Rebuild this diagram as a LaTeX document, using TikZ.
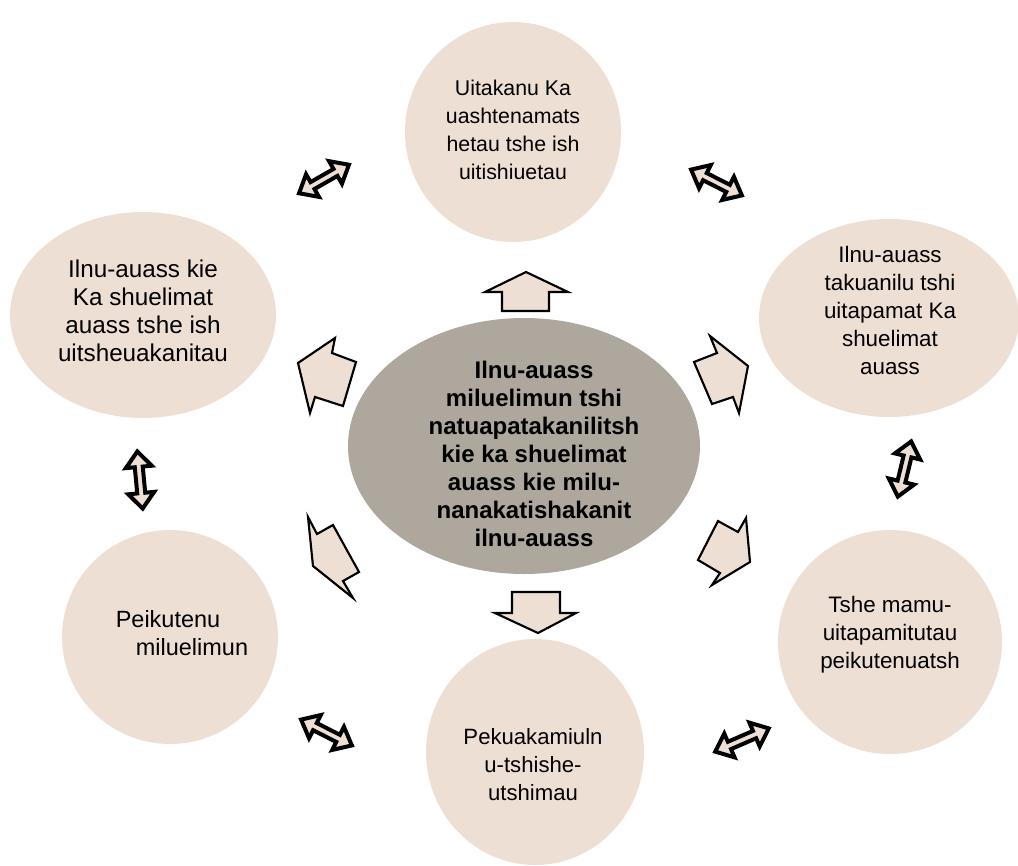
\documentclass[tikz,border=0pt]{standalone}
\usepackage{fontspec}
\setmainfont{Liberation Sans}
\usetikzlibrary{shapes.geometric}
\definecolor{beige}{RGB}{238,223,212}
\definecolor{centergray}{RGB}{173,167,157}
\tikzset{
  ell/.style 2 args={ellipse, fill=beige, draw=none, inner sep=0pt,
     minimum width=#1*1.5pt, minimum height=#2*1.5pt},
  lbl/.style={align=center, font=\fontsize{#1}{21pt}\selectfont, inner sep=0pt},
  lbl/.default=16pt,
  blockarr/.style={draw=black, fill=beige, line width=1.6pt, line join=miter},
  dblarr/.style={draw=black, fill=beige, line width=3pt, line join=miter}
}
\newcommand\dbla[4]{%
  \pgfmathsetmacro\ddx{#3-#1}\pgfmathsetmacro\ddy{#4-#2}%
  \pgfmathsetmacro\dlen{veclen(\ddx,\ddy)}%
  \pgfmathsetmacro\dang{atan2(-\ddy,\ddx)}%
  \pgfmathsetmacro\dL{\dlen-3.5}%
  \begin{scope}[shift={(#1,#2)},rotate=\dang]
    \draw[dblarr] (3.5,0) -- (19,-13) -- (19,-4) -- (\dL-15.5,-4) -- (\dL-15.5,-13)
      -- (\dL,0) -- (\dL-15.5,13) -- (\dL-15.5,4) -- (19,4) -- (19,13) -- cycle;
  \end{scope}}
\begin{document}
\begin{tikzpicture}[x=0.75pt,y=-0.75pt]
\useasboundingbox (0,0) rectangle (1018,865);
% ellipses
\node[ell={108}{110}] (top) at (513,132) {};
\node[ell={130}{99}] (tr) at (889,318) {};
\node[ell={112}{112}] (br) at (890,642) {};
\node[ell={109}{113}] (bot) at (535,752) {};
\node[ell={108}{107}] (bl) at (170,637) {};
\node[ell={133}{103}] (tl) at (143,315) {};
\node[ell={176}{128}, fill=centergray] (ctr) at (524,446) {};
% texts
\node[lbl] (ttop) at (513,130) {Uitakanu Ka\\uashtenamats\\hetau tshe ish\\uitishiuetau};
\node[lbl=16.8pt] (ttr) at (890,310) {Ilnu-auass\\takuanilu tshi\\uitapamat Ka\\shuelimat\\auass};
\node[lbl=16.8pt] (tbr) at (890,635) {Tshe mamu-\\uitapamitutau\\peikutenuatsh};
\node[lbl=16.6pt] (tbot) at (533,765) {Pekuakamiuln\\u-tshishe-\\utshimau};
\node[lbl=17.6pt] (tbl) at (168,633) {Peikutenu\\\hspace*{36pt}miluelimun};
\node[lbl=18.2pt] (ttl) at (143,311) {Ilnu-auass kie\\Ka shuelimat\\auass tshe ish\\uitsheuakanitau};
\node[lbl, font=\bfseries\fontsize{18pt}{21pt}\selectfont] (tctr) at (534,454)
  {Ilnu-auass\\miluelimun tshi\\natuapatakanilitsh\\kie ka shuelimat\\auass kie milu-\\nanakatishakanit\\ilnu-auass};
% block arrows
\draw[blockarr] (526,272) -- (568,292) -- (549,292) -- (549,311) -- (502,311) -- (502,292) -- (485,292) -- cycle;
\draw[blockarr] (512,592) -- (560,592) -- (560,613) -- (576,613) -- (538,633) -- (495,613) -- (512,613) -- cycle;
\draw[blockarr] (298,363) -- (335,338) -- (332,353) -- (356,362) -- (343,406) -- (315,397) -- (310,413) -- cycle;
\draw[blockarr] (710,336) -- (717,353) -- (694,362) -- (712,404) -- (733,397) -- (739,413) -- (748,366) -- cycle;
\draw[blockarr] (308,517) -- (317,534) -- (333,525) -- (359,572) -- (343,581) -- (353,598) -- (313,566) -- cycle;
\draw[blockarr] (718,521) -- (738,532) -- (746,518) -- (750,562) -- (712,585) -- (720,573) -- (698,560) -- cycle;
% double arrows
\dbla{296}{195}{352}{163}
\dbla{688}{168}{745}{197}
\dbla{137}{448}{143}{512}
\dbla{912}{438}{897}{500}
\dbla{298}{718}{355}{747}
\dbla{712}{753}{772}{727}
\end{tikzpicture}
\end{document}
